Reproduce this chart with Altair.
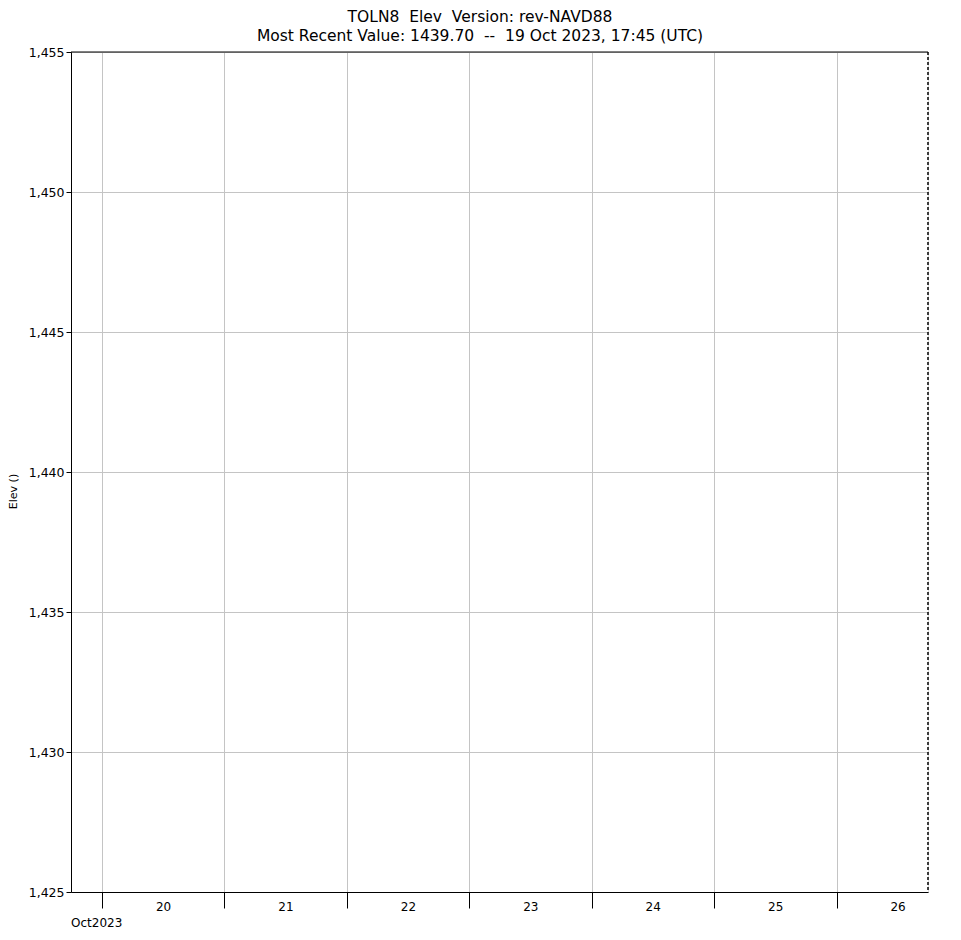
import altair as alt
import pandas as pd

# --- data ---
NB = "\u00a0"
title_line1 = f"TOLN8 {NB}Elev {NB}Version: rev-NAVD88"
title_line2 = f"Most Recent Value: 1439.70 {NB}-- {NB}19 Oct 2023, 17:45 (UTC)"
last_time = ["2023-10-19T17:45:00Z"]
last_value = [1439.70]
y_domain = [1425, 1455]
y_ticks = [1425, 1430, 1435, 1440, 1445, 1450, 1455]
day_ticks = [20, 21, 22, 23, 24, 25, 26]
x_start = (2023, 10, 19, 17, 55)
x_end = (2023, 10, 26, 17, 55)
month_label = "Oct2023"
y_title = "Elev ()"

W, H = 857, 840
FONT = "DejaVu Sans"


def dt(y, mo, d, h=0, mi=0):
    return alt.DateTime(year=y, month=mo, date=d, hours=h, minutes=mi, utc=True)


x_scale = alt.Scale(type="utc", domain=[dt(*x_start), dt(*x_end)])
y_scale = alt.Scale(domain=y_domain, nice=False, zero=False)

df = pd.DataFrame({"t": last_time, "v": last_value})

base = alt.Chart(df).mark_point(opacity=0, clip=True).encode(
    x=alt.X(
        "t:T",
        scale=x_scale,
        axis=alt.Axis(
            values=[dt(2023, 10, d) for d in day_ticks],
            labelExpr="utcFormat(datum.value, '%d')",
            title=None,
            tickSize=16,
            tickColor="black",
            domainColor="black",
            labelOffset=61,
            labelPadding=-7,
            labelFlush=False,
            labelFont=FONT,
            labelFontSize=12,
            labelColor="black",
            gridColor="#c4c4c4",
            labelOverlap=False,
        ),
    ),
    y=alt.Y(
        "v:Q",
        scale=y_scale,
        axis=alt.Axis(
            values=y_ticks,
            format=",",
            title=y_title,
            titleFont=FONT,
            titleFontSize=11,
            titleFontWeight="normal",
            titleColor="black",
            titleAngle=270,
            titleX=-58,
            titleY=439,
            titleAlign="center",
            titleBaseline="middle",
            tickSize=5,
            tickColor="black",
            domainColor="black",
            labelFont=FONT,
            labelFontSize=12.5,
            labelColor="black",
            labelPadding=2,
            gridColor="#c4c4c4",
        ),
    ),
)

top_rule = alt.Chart(df).mark_rule(color="black", strokeWidth=1).encode(
    x=alt.value(0), x2=alt.value(W), y=alt.value(0)
)
right_rule = alt.Chart(df).mark_rule(color="black", strokeWidth=1.5, strokeDash=[3, 2]).encode(
    x=alt.value(W), y=alt.value(0), y2=alt.value(H)
)

titles = pd.DataFrame({"txt": [title_line1, title_line2], "yy": [-30, -11.5]})
title_layer = alt.Chart(titles).mark_text(
    font=FONT, fontSize=15.5, color="black", align="center", baseline="alphabetic"
).encode(x=alt.value(409), y=alt.Y("yy:Q", scale=None), text="txt:N")

month_df = pd.DataFrame({"txt": [month_label]})
month_layer = alt.Chart(month_df).mark_text(
    font=FONT, fontSize=12, color="black", align="left", baseline="middle"
).encode(x=alt.value(0), y=alt.value(871), text="txt:N")

chart = alt.layer(base, top_rule, right_rule, title_layer, month_layer).properties(
    width=W,
    height=H,
    autosize=alt.AutoSizeParams(type="none"),
    padding={"left": 63, "top": 44, "right": 25, "bottom": 40},
).configure_view(stroke=None).configure(background="white")

chart.save("out.html", embed_options={"renderer": "svg", "actions": False})
